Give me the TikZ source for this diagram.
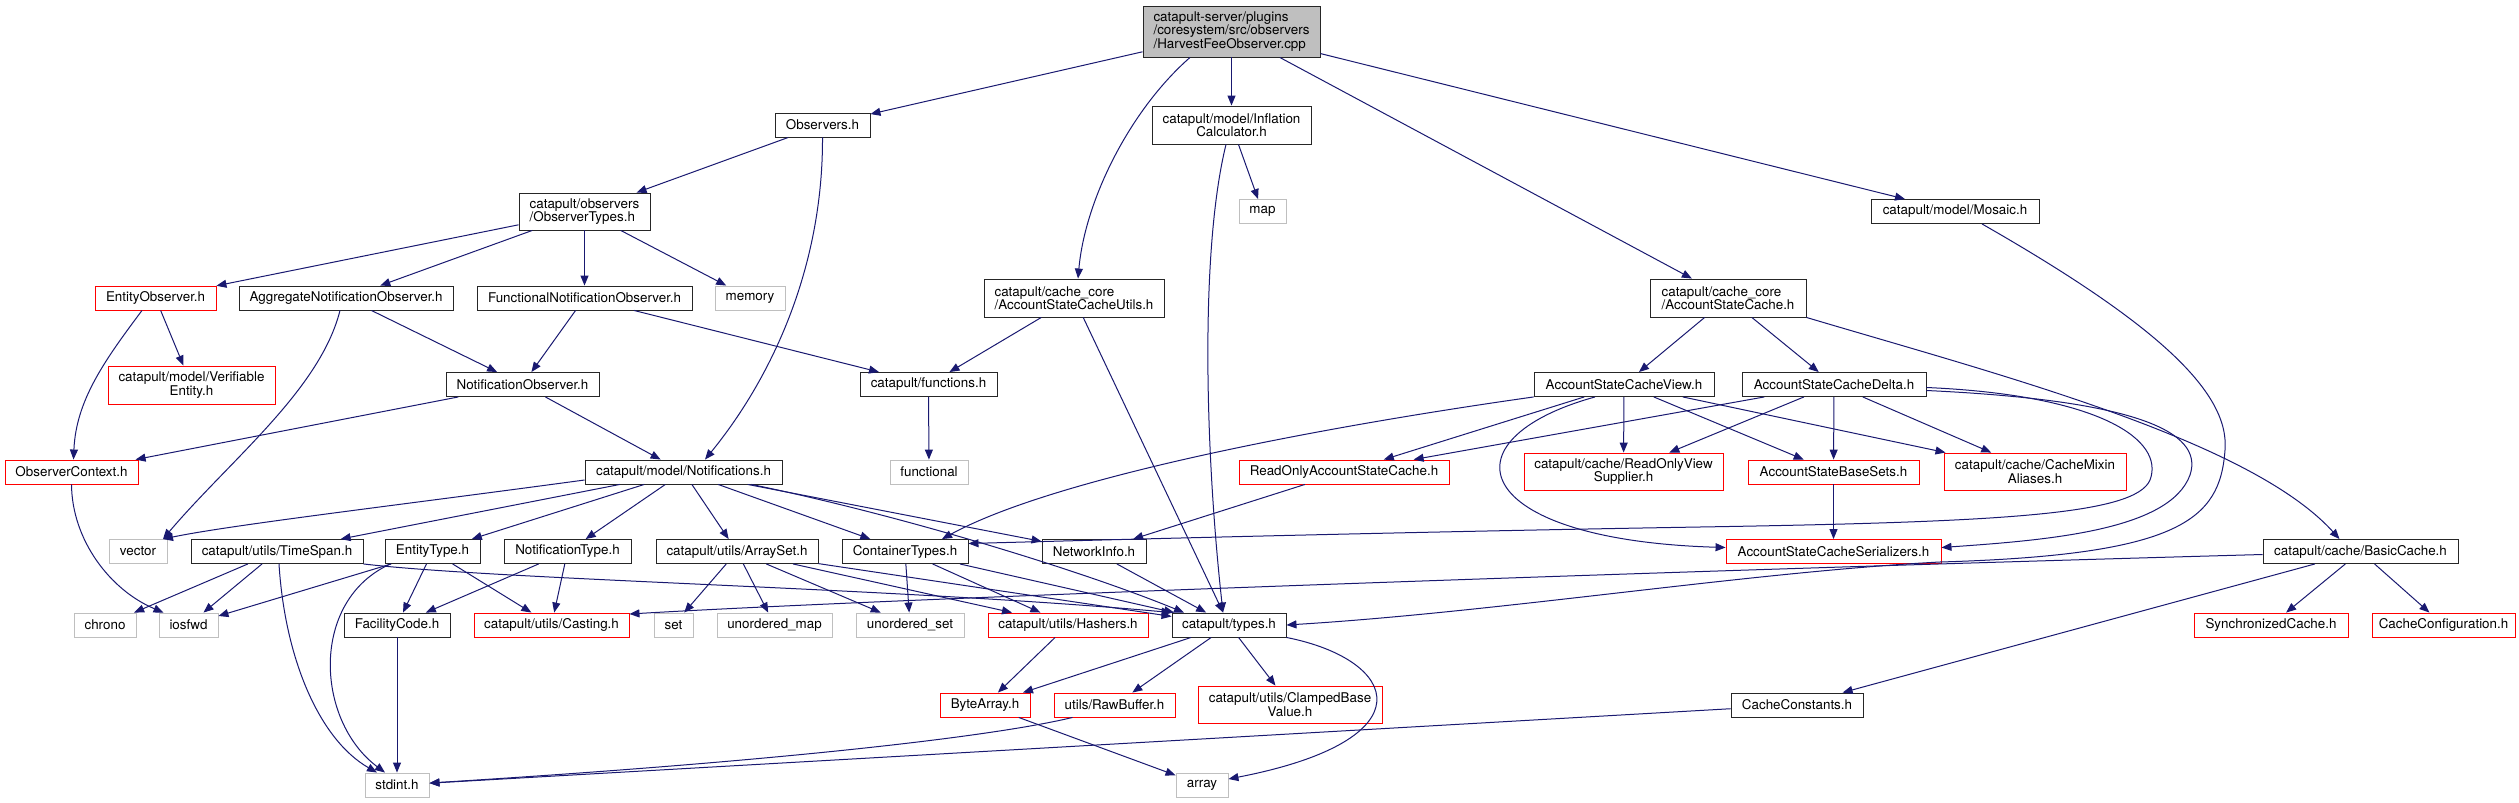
\documentclass[tikz,border=0pt]{standalone}
\usepackage{fontspec}
\setmainfont{TeX Gyre Heros}
\usepackage{tikz}
\usetikzlibrary{arrows.meta}

\definecolor{edgeblue}{RGB}{25,25,112}
\definecolor{grey75}{RGB}{191,191,191}

\tikzset{
	hdr/.style={draw=black!85, line width=0.9pt, fill=white, inner sep=2pt,
			minimum height=24, font=\fontsize{13.4}{13.5}\selectfont, align=center},
	redhdr/.style={hdr, draw=red},
	syshdr/.style={hdr, draw=grey75},
	rootfile/.style={hdr, fill=grey75, align=left},
	dep/.style={draw=edgeblue, line width=1pt, -{Triangle[length=10pt,width=8pt]}},
}

\begin{document}
\begin{tikzpicture}[x=1pt, y=-1pt]
		\useasboundingbox (0,0) rectangle (2519,803);

		% Top rows
		\node[rootfile, minimum width=177, minimum height=51] (root) at (1231.5,31.5) {catapult-server/plugins\\/coresystem/src/observers\\/HarvestFeeObserver.cpp};
		\node[hdr, minimum width=95] (obs) at (822.5,125) {Observers.h};
		\node[hdr, minimum width=159, minimum height=38] (infl) at (1231.5,125) {catapult/model/Inflation\\Calculator.h};
		\node[syshdr, minimum width=47] (stdmap) at (1262.5,211.5) {map};
		\node[hdr, minimum width=168] (mosaic) at (1955,211.5) {catapult/model/Mosaic.h};
		\node[hdr, align=left, minimum width=131, minimum height=37] (obstypes) at (584.5,211.5) {catapult/observers\\/ObserverTypes.h};
		\node[hdr, align=left, minimum width=180, minimum height=38] (asutils) at (1074,298) {catapult/cache\_core\\/AccountStateCacheUtils.h};
		\node[hdr, align=left, minimum width=156, minimum height=38] (ascache) at (1728,298) {catapult/cache\_core\\/AccountStateCache.h};

		% Observer row
		\node[redhdr, minimum width=121] (entobs) at (155.5,298) {EntityObserver.h};
		\node[hdr, minimum width=214] (aggobs) at (346,298) {AggregateNotificationObserver.h};
		\node[hdr, minimum width=215] (funobs) at (584.5,298) {FunctionalNotificationObserver.h};
		\node[syshdr, minimum width=70] (stdmemory) at (750,298) {memory};
		\node[redhdr, minimum width=167, minimum height=38] (verif) at (191.5,385) {catapult/model/Verifiable\\Entity.h};
		\node[hdr, minimum width=153] (notobs) at (522.5,384.5) {NotificationObserver.h};
		\node[hdr, minimum width=137] (funcs) at (928.5,384.5) {catapult/functions.h};
		\node[hdr, minimum width=180] (asview) at (1624,384.5) {AccountStateCacheView.h};
		\node[hdr, minimum width=184] (asdelta) at (1834,384.5) {AccountStateCacheDelta.h};

		% Middle row
		\node[redhdr, minimum width=133] (obsctx) at (71.5,472) {ObserverContext.h};
		\node[hdr, minimum width=197] (notif) at (683.5,472) {catapult/model/Notifications.h};
		\node[syshdr, minimum width=78] (stdfunctional) at (929,472) {functional};
		\node[redhdr, minimum width=210] (roasc) at (1344,472) {ReadOnlyAccountStateCache.h};
		\node[redhdr, minimum width=199, minimum height=37] (rovs) at (1623.5,471.5) {catapult/cache/ReadOnlyView\\Supplier.h};
		\node[redhdr, minimum width=171] (basesets) at (1833.5,472) {AccountStateBaseSets.h};
		\node[redhdr, minimum width=182, minimum height=37] (mixin) at (2035,471.5) {catapult/cache/CacheMixin\\Aliases.h};

		\node[syshdr, minimum width=58] (stdvector) at (138,551.5) {vector};
		\node[hdr, minimum width=172] (timespan) at (277,551.5) {catapult/utils/TimeSpan.h};
		\node[hdr, minimum width=95] (enttype) at (432.5,551.5) {EntityType.h};
		\node[hdr, minimum width=127] (nottype) at (567.5,551.5) {NotificationType.h};
		\node[hdr, minimum width=162] (arrayset) at (737,551.5) {catapult/utils/ArraySet.h};
		\node[hdr, minimum width=126] (contypes) at (905,551.5) {ContainerTypes.h};
		\node[hdr, minimum width=104] (netinfo) at (1094,551.5) {NetworkInfo.h};
		\node[redhdr, minimum width=215] (serial) at (1833.5,551.5) {AccountStateCacheSerializers.h};
		\node[hdr, minimum width=195] (basic) at (2360.5,551.5) {catapult/cache/BasicCache.h};

		% Lower rows
		\node[syshdr, minimum width=62] (stdchrono) at (105,625) {chrono};
		\node[syshdr, minimum width=59] (stdiosfwd) at (188.5,625) {iosfwd};
		\node[hdr, minimum width=106] (faccode) at (397,625) {FacilityCode.h};
		\node[redhdr, minimum width=155] (casting) at (551.5,625) {catapult/utils/Casting.h};
		\node[syshdr, minimum width=39] (stdset) at (673.5,625) {set};
		\node[syshdr, minimum width=115] (umap) at (774.5,625) {unordered\_map};
		\node[syshdr, minimum width=108] (uset) at (910,625) {unordered\_set};
		\node[redhdr, minimum width=160] (hashers) at (1068,625) {catapult/utils/Hashers.h};
		\node[hdr, minimum width=114] (types) at (1229,625) {catapult/types.h};
		\node[redhdr, minimum width=154] (sync) at (2271,625) {SynchronizedCache.h};
		\node[redhdr, minimum width=143] (cconf) at (2443.5,625) {CacheConfiguration.h};

		\node[redhdr, minimum width=90] (bytearr) at (985,705) {ByteArray.h};
		\node[redhdr, minimum width=121] (rawbuf) at (1114.5,705) {utils/RawBuffer.h};
		\node[redhdr, minimum width=184, minimum height=37] (clamped) at (1290,704.5) {catapult/utils/ClampedBase\\Value.h};
		\node[hdr, minimum width=132] (cconst) at (1797,705) {CacheConstants.h};
		\node[syshdr, minimum width=64] (stdint) at (397,785) {stdint.h};
		\node[syshdr, minimum width=52] (stdarray) at (1202,785) {array};

		% Straight dependencies
		\foreach \a/\b in {root/obs, root/infl, root/ascache, root/mosaic,
				obs/obstypes, obstypes/entobs, obstypes/aggobs, obstypes/funobs, obstypes/stdmemory,
				entobs/verif, aggobs/notobs, funobs/notobs, funobs/funcs, notobs/obsctx, notobs/notif,
				infl/stdmap, asutils/funcs, asutils/types, funcs/stdfunctional,
				ascache/asview, ascache/asdelta, asview/roasc, asdelta/roasc, asview/rovs, asdelta/rovs,
				asview/basesets, asdelta/basesets, asview/mixin, asdelta/mixin, roasc/netinfo, basesets/serial,
				notif/timespan, notif/enttype, notif/nottype, notif/arrayset, notif/contypes, notif/netinfo,
				timespan/stdchrono, timespan/stdiosfwd, enttype/stdiosfwd, enttype/faccode, enttype/casting,
				nottype/faccode, nottype/casting, faccode/stdint,
				arrayset/stdset, arrayset/umap, arrayset/uset, arrayset/hashers, arrayset/types,
				contypes/uset, contypes/hashers, contypes/types, netinfo/types,
				hashers/bytearr, types/bytearr, types/rawbuf, types/clamped, bytearr/stdarray,
				basic/sync, basic/cconf, basic/cconst, cconst/stdint} {
				\draw[dep] (\a) -- (\b);
			}

		% Curved dependencies
		\draw[dep] ([xshift=-41.5]root.south) .. controls (1130,110) and (1085,200) .. ([xshift=4]asutils.north);
		\draw[dep] (obs.south) .. controls (823,270) and (770,380) .. ([xshift=21.5]notif.north);
		\draw[dep] ([xshift=-13.5]entobs.south) .. controls (105,360) and (76,400) .. ([xshift=2]obsctx.north);
		\draw[dep] ([xshift=-6]aggobs.south) .. controls (320,390) and (230,460) .. ([xshift=25]stdvector.north);
		\draw[dep] ([xshift=-5.5]infl.south) .. controls (1200,250) and (1205,450) .. ([xshift=-6]types.north);
		\draw[dep] (obsctx.south) .. controls (72,540) and (110,590) .. ([xshift=-25]stdiosfwd.north);
		\draw[dep] ([yshift=-8]notif.west) .. controls (400,505) and (230,525) .. ([xshift=25]stdvector.north);
		\draw[dep] ([xshift=68]notif.south) .. controls (900,515) and (1080,570) .. ([xshift=-45]types.north);
		\draw[dep] ([xshift=2]timespan.south) .. controls (285,660) and (320,740) .. ([xshift=-20]stdint.north);
		\draw[dep] (timespan.south east) .. controls (500,580) and (900,588) .. (types.north west);
		\draw[dep] ([xshift=-42]enttype.south) .. controls (310,600) and (315,720) .. ([xshift=-12]stdint.north);
		\draw[dep] (types.south east) .. controls (1400,660) and (1430,740) .. ([yshift=6]stdarray.east);
		\draw[dep] ([xshift=-42]rawbuf.south) .. controls (1000,735) and (800,760) .. ([yshift=2]stdint.east);

		% Cache side
		\draw[dep] (ascache.south east) .. controls (2000,375) and (2250,440) .. ([xshift=-21]basic.north);
		\draw[dep] (asview.south west) .. controls (1300,430) and (1050,480) .. ([xshift=37]contypes.north);
		\draw[dep] ([xshift=-29]asview.south) .. controls (1440,440) and (1470,540) .. ([yshift=4]serial.west);
		\draw[dep] ([yshift=-3]asdelta.east) .. controls (2100,395) and (2165,440) .. (2150,480)
				.. controls (2135,515) and (2000,522) .. (1700,527)
				.. controls (1400,532) and (1100,540) .. ([yshift=8]contypes.east);
		\draw[dep] ([yshift=-6]asdelta.east) .. controls (2130,400) and (2205,430) .. (2190,475)
				.. controls (2170,530) and (2050,540) .. ([yshift=4]serial.east);
		\draw[dep] ([xshift=27]mosaic.south) .. controls (2150,320) and (2230,390) .. (2225,450)
				.. controls (2220,520) and (2180,555) .. (1940,562)
				.. controls (1750,572) and (1500,612) .. (types.east);
		\draw[dep] ([yshift=-3]basic.west) .. controls (1700,570) and (900,598) .. ([yshift=11]casting.east);
	\end{tikzpicture}
\end{document}
